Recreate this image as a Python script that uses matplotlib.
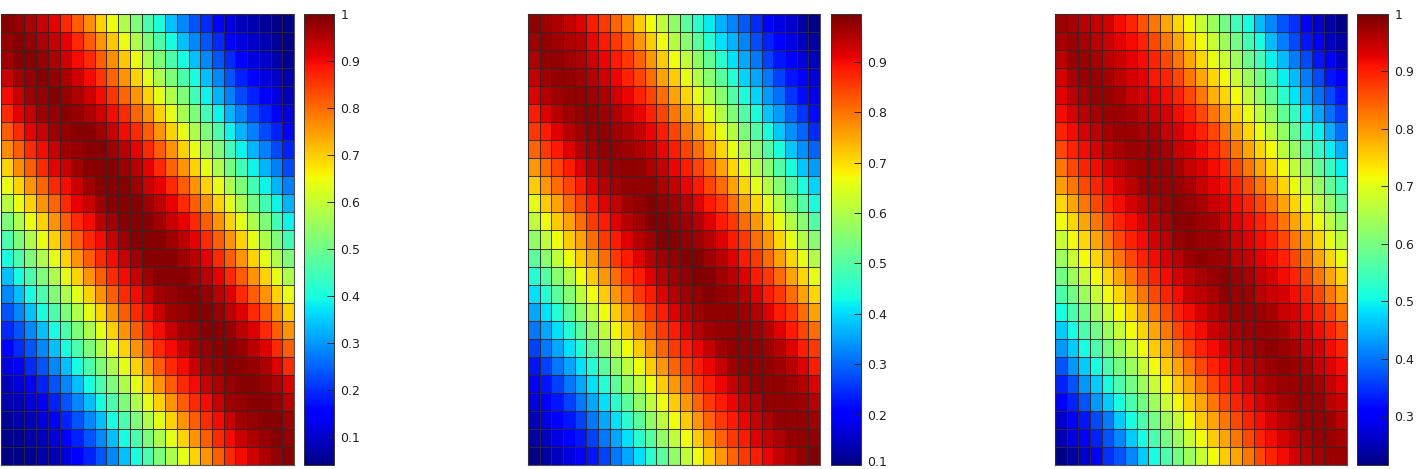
import numpy as np
import matplotlib
matplotlib.use("Agg")
import matplotlib.pyplot as plt
from matplotlib.transforms import ScaledTranslation

# valori (centesimi), righe dall'alto verso il basso
mappa_1 = [
    [99,98,96,94,91,87,82,77,70,65,58,52,46,41,34,29,24,20,16,12,9,8,6,5,5],
    [98,99,98,96,94,91,87,82,76,71,65,58,52,46,40,34,29,24,20,16,12,10,8,6,5],
    [97,99,99,98,96,93,90,87,82,77,71,65,58,52,46,40,34,29,24,20,16,12,10,8,6],
    [94,97,98,99,98,96,93,90,86,81,76,70,64,58,52,46,40,34,29,24,19,16,12,10,8],
    [90,94,97,98,99,98,96,93,90,86,81,76,70,64,58,52,45,39,33,28,23,19,15,12,9],
    [87,91,94,97,98,99,98,96,93,90,87,81,76,70,64,57,52,45,39,33,28,23,19,15,12],
    [82,87,91,94,97,98,99,99,97,94,90,87,82,76,70,64,58,52,46,39,33,28,23,19,15],
    [77,82,87,90,94,97,98,99,99,97,95,91,87,82,76,70,64,58,52,45,39,33,28,23,19],
    [70,77,82,87,91,94,97,99,99,99,97,95,91,87,81,76,70,64,58,51,45,39,33,28,23],
    [65,70,76,81,87,90,94,97,99,99,99,97,94,91,87,82,76,70,64,58,52,45,39,33,28],
    [59,65,70,76,81,87,91,94,97,99,99,99,97,95,91,87,82,76,70,64,58,51,45,39,33],
    [52,58,65,70,76,82,87,90,95,97,99,99,99,97,94,91,87,82,76,70,64,58,52,45,39],
    [46,52,58,65,70,76,82,87,90,94,97,99,99,99,97,95,91,87,82,76,70,64,58,52,45],
    [40,46,52,58,64,70,76,82,87,90,94,97,99,99,99,97,95,91,87,82,76,70,64,58,52],
    [34,40,46,52,58,64,70,76,82,87,90,94,97,99,99,99,97,95,91,87,82,76,70,64,58],
    [29,34,40,46,52,58,64,70,76,82,87,90,94,97,98,99,99,98,95,92,87,82,76,70,64],
    [24,29,34,40,46,52,58,64,70,76,82,87,90,94,97,98,99,99,98,95,92,87,82,76,70],
    [20,24,29,34,40,46,52,58,64,70,76,82,87,90,94,97,98,99,99,98,95,92,87,82,76],
    [16,20,24,29,34,40,46,52,58,64,70,76,82,87,90,94,97,98,99,99,98,95,92,87,82],
    [12,16,20,24,29,34,40,46,52,58,64,70,76,82,87,90,94,97,98,99,99,98,96,92,87],
    [9,12,15,19,24,29,34,40,46,52,58,64,70,76,82,87,90,94,96,98,99,99,98,96,92],
    [8,9,12,15,19,24,29,34,40,46,52,58,64,70,76,82,87,90,94,97,98,99,99,98,95],
    [6,8,9,12,15,19,24,29,34,40,46,52,58,64,70,76,82,87,90,94,97,98,99,99,97],
    [5,6,8,9,12,15,19,24,29,34,40,46,52,58,64,70,76,82,87,90,94,96,98,99,98],
    [4,5,6,8,9,12,15,19,24,29,34,40,46,52,58,64,70,76,82,87,90,93,96,98,99],
]

mappa_2 = [
    [98,97,96,94,92,89,86,82,78,72,67,62,57,51,46,42,37,33,29,25,21,18,16,13,11],
    [97,98,97,96,95,91,89,86,82,77,72,67,61,56,51,45,41,37,33,28,24,21,18,15,13],
    [96,98,98,97,96,93,91,89,86,82,77,72,67,62,57,52,46,41,36,32,27,23,20,17,15],
    [94,97,98,98,97,95,93,91,88,85,81,76,72,66,61,56,51,45,40,36,32,27,23,20,17],
    [92,95,97,98,98,97,96,93,91,88,85,81,76,71,66,61,56,50,44,40,35,31,26,22,19],
    [89,92,95,97,98,98,97,96,93,91,88,85,80,75,71,66,61,55,50,44,39,35,30,26,22],
    [86,89,92,95,97,98,98,97,96,94,91,89,85,80,76,71,66,61,55,50,44,39,34,30,25],
    [82,86,89,92,95,97,98,98,97,96,94,91,89,85,81,76,71,66,61,56,50,44,39,34,30],
    [77,81,85,89,92,95,97,98,98,98,96,94,91,89,85,81,76,71,66,61,56,50,44,39,35],
    [72,77,81,85,89,92,95,97,98,98,98,96,94,91,89,85,81,76,71,66,61,56,50,44,40],
    [66,72,76,81,85,89,92,94,97,98,99,98,97,95,92,89,86,81,76,71,66,61,55,50,44],
    [62,67,72,76,81,86,89,92,95,97,99,99,98,97,95,92,89,86,81,77,71,66,61,56,50],
    [57,62,67,72,76,81,86,89,92,95,97,99,99,98,97,95,92,89,86,81,77,71,66,61,56],
    [51,56,62,67,72,76,81,86,89,92,95,97,98,99,99,97,95,92,89,86,81,76,71,66,61],
    [45,50,56,61,67,72,77,81,86,89,92,95,97,98,99,99,97,95,92,89,86,81,76,71,66],
    [41,45,51,56,62,67,72,77,81,86,89,92,95,97,98,99,98,97,95,92,89,86,81,76,71],
    [36,41,45,51,57,62,67,72,77,81,86,89,92,95,97,98,98,98,97,95,92,89,86,81,76],
    [32,36,41,45,51,57,62,68,72,77,82,86,89,92,95,97,98,98,98,97,95,92,89,85,81],
    [27,32,36,41,45,51,57,62,67,72,77,82,86,89,91,94,97,98,98,98,97,95,92,89,86],
    [23,27,32,36,41,45,51,57,62,67,72,77,82,86,89,91,94,97,98,98,98,97,95,92,89],
    [20,23,27,32,36,41,45,51,57,62,67,72,77,82,86,89,91,94,96,98,98,98,97,95,92],
    [18,20,23,27,32,36,41,46,51,57,62,67,72,77,82,86,89,91,94,96,98,98,98,97,95],
    [15,18,20,23,27,32,36,41,46,51,57,62,67,72,77,82,86,89,91,94,96,98,98,98,97],
    [13,15,18,20,23,27,32,36,41,46,51,57,62,67,72,77,82,86,89,92,94,96,98,98,98],
    [11,13,15,18,20,23,27,32,36,41,46,51,57,62,67,72,77,82,86,89,91,94,96,98,99],
]

mappa_3 = [
    [98,97,96,95,94,92,90,86,83,79,75,72,68,64,60,55,51,46,42,38,35,31,27,24,22],
    [97,98,97,96,95,93,92,90,87,83,79,75,72,68,64,60,55,51,46,41,37,33,30,26,24],
    [96,98,98,97,96,95,93,92,90,87,83,79,75,71,68,64,59,55,50,46,41,37,33,30,26],
    [94,97,98,98,97,96,94,93,91,90,87,83,79,75,72,68,64,60,55,50,46,41,37,33,30],
    [93,96,97,98,98,97,95,94,93,92,90,87,83,78,75,72,67,63,58,53,49,44,40,37,33],
    [92,94,96,97,98,98,97,96,95,94,92,90,87,83,79,75,71,67,63,58,54,49,44,40,36],
    [90,92,94,96,97,98,98,97,97,95,94,92,90,87,83,79,75,71,67,63,58,53,50,45,40],
    [87,90,92,94,96,97,98,98,98,97,95,94,92,90,87,83,79,75,72,67,63,58,54,50,45],
    [83,87,90,92,94,96,97,98,98,98,97,95,94,92,90,87,83,79,75,72,67,63,58,54,50],
    [80,83,87,90,92,94,96,98,98,98,98,97,95,93,92,90,87,83,79,75,71,67,63,58,54],
    [75,79,83,87,90,92,94,96,97,98,99,98,97,95,94,92,90,87,83,79,75,71,67,63,58],
    [72,75,79,83,87,90,92,94,96,97,99,99,98,97,95,93,92,90,87,83,79,75,71,67,63],
    [68,72,75,79,83,87,90,92,94,96,98,99,98,98,97,95,93,92,90,87,83,79,75,71,67],
    [64,68,72,75,79,83,87,90,92,94,96,98,99,98,98,96,95,93,92,90,87,83,79,75,71],
    [60,64,68,72,75,79,83,87,90,92,94,96,97,98,99,98,97,95,94,92,90,87,83,79,75],
    [56,60,64,68,72,75,79,83,87,90,92,95,96,97,99,98,98,96,95,94,92,90,87,83,79],
    [51,56,60,64,68,72,75,79,83,87,90,92,94,96,97,98,98,98,97,95,94,92,90,87,83],
    [47,51,56,60,64,68,72,75,79,83,87,90,92,95,96,97,98,98,98,97,95,94,92,90,87],
    [43,47,51,56,60,64,68,72,76,79,83,87,90,92,94,96,97,98,99,98,97,95,94,92,90],
    [38,43,47,51,56,60,64,68,72,76,79,83,87,90,92,94,96,97,98,99,98,97,95,93,92],
    [34,38,43,47,51,56,60,64,68,72,76,79,83,87,90,92,94,96,97,98,98,98,97,95,93],
    [30,34,38,43,47,51,56,60,64,68,72,76,79,83,87,90,92,94,96,97,98,98,98,96,95],
    [27,30,33,37,41,47,51,56,60,64,68,72,76,79,83,87,90,92,94,96,97,98,98,98,96],
    [25,28,31,34,38,42,47,51,56,60,64,68,72,76,79,83,87,90,92,94,96,97,98,98,97],
    [22,24,27,31,35,38,42,47,51,56,60,64,68,72,76,79,83,87,90,92,94,96,97,98,98],
]

scala_1 = (0.04, 1.0)
scala_2 = (0.10, 0.995)
scala_3 = (0.215, 1.0)

tick_1 = [0.1, 0.2, 0.3, 0.4, 0.5, 0.6, 0.7, 0.8, 0.9, 1]
tick_2 = [0.1, 0.2, 0.3, 0.4, 0.5, 0.6, 0.7, 0.8, 0.9]
tick_3 = [0.3, 0.4, 0.5, 0.6, 0.7, 0.8, 0.9, 1]

L, H = 1417, 469


def box(x0, x1, y0, y1):
    # coordinate in pixel -> frazioni della figura
    return [x0 / L, 1 - y1 / H, (x1 - x0) / L, (y1 - y0) / H]


fig = plt.figure(figsize=(L / 100, H / 100), dpi=100)

pannelli = [
    (mappa_1, scala_1, tick_1, 1, 294, 304, 334),
    (mappa_2, scala_2, tick_2, 528, 820, 831, 861),
    (mappa_3, scala_3, tick_3, 1055, 1347, 1357, 1388),
]

for mappa, scala, tick, x0, x1, c0, c1 in pannelli:
    ax = fig.add_axes(box(x0, x1, 14, 465))
    valori = np.array(mappa) / 100
    m = ax.pcolormesh(valori, cmap="jet", vmin=scala[0], vmax=scala[1])
    ax.invert_yaxis()
    # griglia sottile sopra le celle
    ax.set_xticks(np.arange(valori.shape[1] + 1))
    ax.set_yticks(np.arange(valori.shape[0] + 1))
    ax.tick_params(length=0, labelbottom=False, labelleft=False)
    ax.grid(True, color="#302828", linewidth=0.75, alpha=0.9)
    ax.set_axisbelow(False)
    for s in ax.spines.values():
        s.set_color("#555555")
        s.set_linewidth(0.8)

    cax = fig.add_axes(box(c0, c1, 14, 465))
    cb = fig.colorbar(m, cax=cax)
    cb.set_ticks(tick)
    cb.set_ticklabels([str(t) for t in tick])
    cb.solids.set_edgecolor("face")
    cax.tick_params(axis="y", direction="in", length=5, width=0.7, pad=4.5,
                    labelsize=9, colors="#222222")
    for s in cax.spines.values():
        s.set_color("#333333")
        s.set_linewidth(0.7)

    # l'etichetta 0.1 sul bordo inferiore va alzata un poco
    if scala[0] == tick[0]:
        lab = cax.get_yticklabels()[0]
        lab.set_transform(lab.get_transform() + ScaledTranslation(0, 3 / 72, fig.dpi_scale_trans))

fig.savefig("out.png", dpi=100)
plt.close(fig)
